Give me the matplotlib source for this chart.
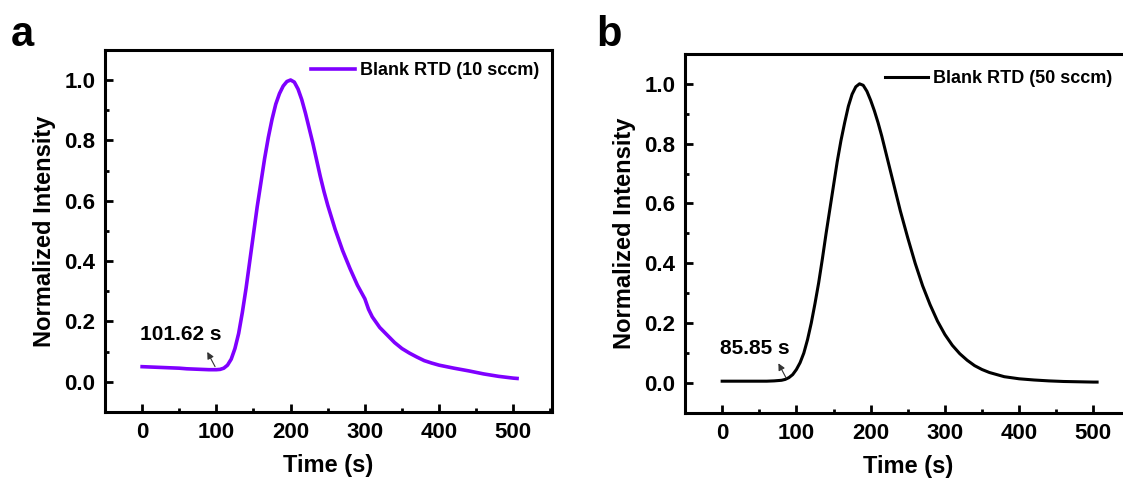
import matplotlib.pyplot as plt
from matplotlib.ticker import MultipleLocator

# Panel a: blank RTD at 10 sccm
t_a = [0, 10, 20, 30, 40, 50, 60, 70, 80, 90, 100, 105, 110, 115, 120, 125,
       130, 135, 140, 145, 150, 155, 160, 165, 170, 175, 180, 185, 190, 195,
       200, 205, 210, 215, 220, 225, 230, 235, 240, 245, 250, 260, 270, 280,
       290, 300, 305, 310, 320, 330, 340, 350, 360, 370, 380, 390, 400, 420,
       440, 460, 480, 500, 505]
i_a = [0.050, 0.049, 0.048, 0.047, 0.046, 0.045, 0.043, 0.042, 0.041, 0.040,
       0.040, 0.041, 0.045, 0.055, 0.075, 0.11, 0.16, 0.23, 0.31, 0.40, 0.49,
       0.58, 0.66, 0.74, 0.81, 0.87, 0.92, 0.955, 0.98, 0.995, 1.0, 0.993,
       0.97, 0.935, 0.89, 0.84, 0.79, 0.735, 0.68, 0.63, 0.585, 0.505, 0.435,
       0.375, 0.32, 0.275, 0.24, 0.215, 0.18, 0.155, 0.13, 0.11, 0.095, 0.082,
       0.07, 0.062, 0.055, 0.045, 0.036, 0.026, 0.018, 0.012, 0.011]

# Panel b: blank RTD at 50 sccm
t_b = [0, 20, 40, 60, 70, 80, 85, 90, 95, 100, 105, 110, 115, 120, 125, 130,
       135, 140, 145, 150, 155, 160, 165, 170, 175, 180, 185, 190, 195, 200,
       205, 210, 215, 220, 225, 230, 240, 250, 260, 270, 280, 290, 300, 310,
       320, 330, 340, 350, 360, 380, 400, 420, 440, 460, 480, 500, 505]
i_b = [0.006, 0.006, 0.006, 0.006, 0.007, 0.009, 0.012, 0.018, 0.028, 0.045,
       0.068, 0.10, 0.145, 0.20, 0.265, 0.335, 0.415, 0.50, 0.58, 0.66, 0.74,
       0.81, 0.87, 0.925, 0.965, 0.99, 1.0, 0.995, 0.975, 0.945, 0.91, 0.87,
       0.825, 0.775, 0.725, 0.675, 0.575, 0.485, 0.40, 0.325, 0.262, 0.207,
       0.162, 0.126, 0.098, 0.076, 0.058, 0.045, 0.035, 0.021, 0.014, 0.01,
       0.007, 0.005, 0.004, 0.003, 0.003]

labels = ['Blank RTD (10 sccm)', 'Blank RTD (50 sccm)']
onsets = ['101.62 s', '85.85 s']

plt.rcParams['font.family'] = ['Liberation Sans', 'DejaVu Sans']
plt.rcParams['font.weight'] = 'bold'
plt.rcParams['axes.labelweight'] = 'bold'

fig = plt.figure(figsize=(11.23, 4.79), dpi=100)
ax1 = fig.add_axes([0.0935, 0.140, 0.398, 0.756])
ax2 = fig.add_axes([0.610, 0.138, 0.398, 0.7495])


def style_axes(ax):
    ax.set_xlim(-50, 552)
    ax.set_ylim(-0.1, 1.1)
    ax.xaxis.set_major_locator(MultipleLocator(100))
    ax.xaxis.set_minor_locator(MultipleLocator(50))
    ax.yaxis.set_major_locator(MultipleLocator(0.2))
    ax.yaxis.set_minor_locator(MultipleLocator(0.1))
    ax.yaxis.set_major_formatter(plt.FormatStrFormatter('%.1f'))
    ax.tick_params(which='both', direction='in', top=False, right=False,
                   width=2, labelsize=16)
    ax.tick_params(which='major', length=6, pad=7)
    ax.tick_params(which='minor', length=3)
    for sp in ax.spines.values():
        sp.set_linewidth(2.2)
    ax.set_xlabel('Time (s)', fontsize=17, labelpad=8)
    ax.set_ylabel('Normalized Intensity', fontsize=17, labelpad=6)


ax1.plot(t_a, i_a, color='#7F00FF', lw=2.6, label=labels[0])
style_axes(ax1)
ax1.legend(loc='upper right', frameon=False, fontsize=13, handlelength=2.4,
           handletextpad=0.3, bbox_to_anchor=(1.0, 1.0), borderaxespad=0.3)
ax1.annotate(onsets[0], xy=(86, 0.105), xytext=(52, 0.158), fontsize=15,
             ha='center', va='center')
ax1.annotate('', xy=(86, 0.107), xytext=(100, 0.042),
             arrowprops=dict(arrowstyle='-|>', color='#333333', lw=0.8,
                             mutation_scale=10))

ax2.plot(t_b, i_b, color='black', lw=2.2, label=labels[1])
style_axes(ax2)
ax2.legend(loc='upper right', frameon=False, fontsize=13, handlelength=2.4,
           handletextpad=0.3, bbox_to_anchor=(0.985, 0.99), borderaxespad=0.3)
ax2.annotate(onsets[1], xy=(74, 0.074), xytext=(44, 0.114), fontsize=15,
             ha='center', va='center')
ax2.annotate('', xy=(74, 0.074), xytext=(88, 0.008),
             arrowprops=dict(arrowstyle='-|>', color='#333333', lw=0.8,
                             mutation_scale=10))

fig.text(0.010, 0.905, 'a', fontsize=30, fontweight='bold')
fig.text(0.531, 0.905, 'b', fontsize=30, fontweight='bold')

fig.savefig('out.png', dpi=100)
